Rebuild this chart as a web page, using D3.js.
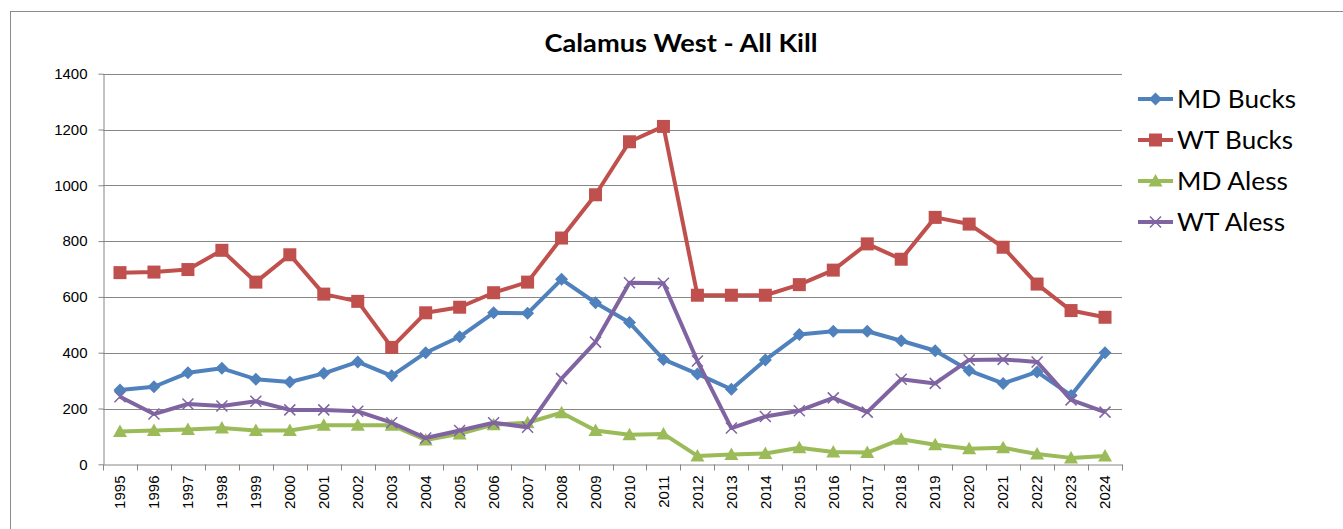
<!DOCTYPE html>
<html>
<head>
<meta charset="utf-8">
<script src="https://cdn.jsdelivr.net/npm/d3@7"></script>
<style>
  html, body { margin: 0; padding: 0; background: #fff; }
</style>
</head>
<body>
<div id="chart"></div>
<script>
// 数据
const years = ["1995","1996","1997","1998","1999","2000","2001","2002","2003","2004",
  "2005","2006","2007","2008","2009","2010","2011","2012","2013","2014",
  "2015","2016","2017","2018","2019","2020","2021","2022","2023","2024"]
const mdBucks = [266,278,328,344,305,295,326,367,317,400,457,543,541,663,579,508,376,324,269,374,465,477,477,443,407,336,290,331,247,400]
const wtBucks = [687,689,698,767,653,751,610,584,419,543,563,615,653,811,966,1156,1211,606,606,606,644,696,790,735,885,861,778,646,551,527]
const mdAless = [118,121,125,130,121,121,140,140,140,87,109,142,149,185,121,106,109,30,35,39,59,44,42,90,70,56,59,37,23,30]
const wtAless = [242,180,216,209,226,195,195,190,149,94,121,149,133,307,438,651,649,370,130,171,192,238,187,305,290,374,376,367,231,187]
const yTicks = [0,200,400,600,800,1000,1200,1400]

const seriesNames = ["MD Bucks","WT Bucks","MD Aless","WT Aless"]
const seriesValues = [mdBucks, wtBucks, mdAless, wtAless]
const colors = ["#4F81BD","#C0504D","#9BBB59","#8064A2"]
const shapes = ["diamond","square","triangle","x"]

const width = 1343
const height = 529
const marginLeft = 103
const marginRight = 221      // 1343 - 1122
const marginTop = 73.7
const marginBottom = 64.7    // 529 - 464.3
const gridColor = "#868686"
const axisFont = "'Liberation Sans', Arial, sans-serif"

const svg = d3.select("#chart").append("svg")
  .attr("width", width)
  .attr("height", height)

// 外框
svg.append("rect")
  .attr("x", 10.5).attr("y", 11.5)
  .attr("width", 1400).attr("height", 600)
  .attr("fill", "none")
  .attr("stroke", "#8c8c8c")
  .attr("stroke-width", 1)

// 标题
svg.append("text")
  .attr("x", 681).attr("y", 52)
  .attr("text-anchor", "middle")
  .attr("font-family", "Lato, 'Open Sans', sans-serif")
  .attr("font-weight", "bold")
  .attr("font-size", 25)
  .attr("textLength", 273)
  .attr("lengthAdjust", "spacingAndGlyphs")
  .attr("fill", "#000")
  .text("Calamus West - All Kill")

const xScale = d3.scaleBand(years, [marginLeft, width - marginRight])
const yScale = d3.scaleLinear([0, 1400], [height - marginBottom, marginTop])
const cx = d => xScale(d) + xScale.bandwidth() / 2

// 网格线
svg.append("g")
  .selectAll("line")
  .data(yTicks.filter(t => t > 0))
  .join("line")
  .attr("x1", marginLeft).attr("x2", width - marginRight)
  .attr("y1", d => Math.round(yScale(d)) + 0.5)
  .attr("y2", d => Math.round(yScale(d)) + 0.5)
  .attr("stroke", gridColor)
  .attr("stroke-width", 1)

// Y轴
const yAxis = d3.axisLeft(yScale).tickValues(yTicks).tickFormat(d3.format("d"))
  .tickSize(5).tickPadding(11).tickSizeOuter(0)
svg.append("g")
  .attr("transform", `translate(${marginLeft + 0.5},0)`)
  .call(yAxis)
  .attr("font-size", 15)
  .attr("font-family", axisFont)
  .call(g => g.select(".domain").attr("stroke", gridColor))
  .call(g => g.selectAll(".tick line").attr("stroke", gridColor))
  .call(g => g.selectAll(".tick text").attr("fill", "#000")
    .style("font-size", "15px").style("font-family", axisFont))

// X轴
const xAxis = d3.axisBottom(xScale).tickSize(0).tickSizeOuter(0)
svg.append("g")
  .attr("transform", `translate(0,${Math.round(yScale(0)) + 0.5})`)
  .call(xAxis)
  .attr("font-size", 15)
  .attr("font-family", axisFont)
  .call(g => g.select(".domain").attr("stroke", gridColor))
  .call(g => g.selectAll(".tick text")
    .attr("fill", "#000")
    .style("font-size", "15px").style("font-family", axisFont)
    .attr("text-anchor", "end")
    .attr("dy", "0.35em")
    .attr("transform", "translate(0,11) rotate(-90)")
    .attr("x", 0).attr("y", 0))
  .call(g => g.selectAll(".tick line").remove())
  .call(g => g.append("g").selectAll("line")
    .data(d3.range(years.length + 1))
    .join("line")
    .attr("x1", i => Math.round(marginLeft + i * xScale.step()) + 0.5)
    .attr("x2", i => Math.round(marginLeft + i * xScale.step()) + 0.5)
    .attr("y1", 0).attr("y2", 6)
    .attr("stroke", gridColor))

// 标记
const drawMarker = (sel, shape, color) => {
  if (shape === "diamond") {
    sel.append("path").attr("d", "M0,-6.5L6.5,0L0,6.5L-6.5,0Z").attr("fill", color)
  } else if (shape === "square") {
    sel.append("rect").attr("x", -6.5).attr("y", -6.5).attr("width", 13).attr("height", 13).attr("fill", color)
  } else if (shape === "triangle") {
    sel.append("path").attr("d", "M0,-7L7,5.5L-7,5.5Z").attr("fill", color)
  } else {
    sel.append("path").attr("d", "M-5.5,-5.5L5.5,5.5M-5.5,5.5L5.5,-5.5")
      .attr("stroke", color).attr("stroke-width", 1.5).attr("fill", "none")
  }
}

const line = d3.line().x((d, i) => cx(years[i])).y(d => yScale(d))

seriesValues.forEach((vals, s) => {
  const g = svg.append("g")
  g.append("path")
    .datum(vals)
    .attr("d", line)
    .attr("fill", "none")
    .attr("stroke", colors[s])
    .attr("stroke-width", 4)
    .attr("stroke-linejoin", "round")
  g.selectAll(".m")
    .data(vals)
    .join("g")
    .attr("class", "m")
    .attr("transform", (d, i) => `translate(${cx(years[i])},${yScale(d)})`)
    .each(function () { drawMarker(d3.select(this), shapes[s], colors[s]) })
})

// 图例
const legendRowY = [99, 140, 181, 222]
const legendWidths = [119, 116, 111, 108]
seriesNames.forEach((name, s) => {
  const g = svg.append("g").attr("transform", `translate(0,${legendRowY[s]})`)
  g.append("line")
    .attr("x1", 1138).attr("x2", 1173)
    .attr("y1", 0).attr("y2", 0)
    .attr("stroke", colors[s]).attr("stroke-width", 4)
  const m = g.append("g").attr("transform", "translate(1155.5,0)")
  drawMarker(m, shapes[s], colors[s])
  g.append("text")
    .attr("x", 1177).attr("y", 8.5)
    .attr("font-family", "Lato, 'Open Sans', sans-serif")
    .attr("font-size", 25)
    .attr("textLength", legendWidths[s])
    .attr("lengthAdjust", "spacingAndGlyphs")
    .attr("fill", "#000")
    .text(name)
})
</script>
</body>
</html>
